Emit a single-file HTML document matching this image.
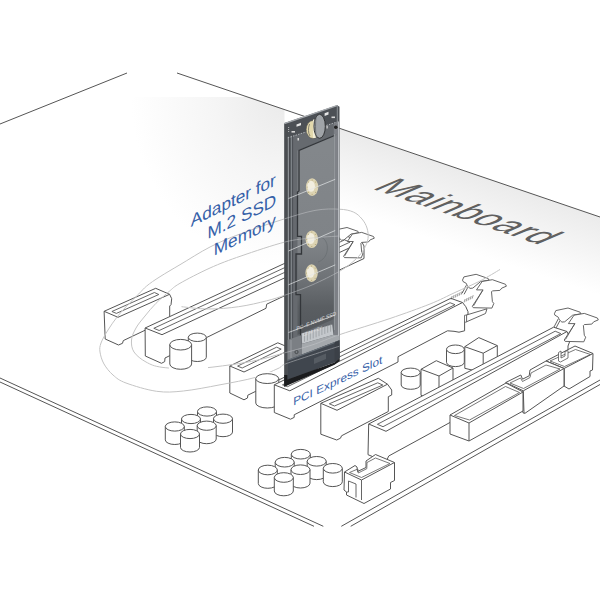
<!DOCTYPE html>
<html><head><meta charset="utf-8"><style>html,body{margin:0;padding:0;background:#fff;width:600px;height:600px;overflow:hidden}svg{display:block}</style></head>
<body><svg width="600" height="600" viewBox="0 0 600 600"><defs>
<radialGradient id="sh1" cx="284" cy="97" r="170" gradientUnits="userSpaceOnUse" gradientTransform="translate(284 97) scale(0.9 1) translate(-284 -97)">
<stop offset="0" stop-color="#eaeaea"/><stop offset="0.45" stop-color="#f5f5f5"/><stop offset="1" stop-color="#fff"/></radialGradient>
<linearGradient id="sh2" x1="469" y1="172" x2="445" y2="244" gradientUnits="userSpaceOnUse">
<stop offset="0" stop-color="#ebebeb"/><stop offset="1" stop-color="#fff"/></linearGradient>
<linearGradient id="pg" x1="0" y1="150" x2="0" y2="335" gradientUnits="userSpaceOnUse"><stop offset="0" stop-color="#83878b"/><stop offset="0.5" stop-color="#7f8387"/><stop offset="0.7" stop-color="#6e7276"/><stop offset="0.85" stop-color="#5a5e62"/><stop offset="1" stop-color="#53575b"/></linearGradient>
<clipPath id="bclip"><polygon points="284.4,123.1 339.5,104 339.5,358 284.4,386"/></clipPath>
<mask id="rmask" maskUnits="userSpaceOnUse" x="0" y="0" width="600" height="600"><rect width="600" height="600" fill="#fff"/>
<rect x="169" y="330" width="39" height="42" fill="#000"/><rect x="255" y="372" width="25" height="40" fill="#000"/></mask>
</defs><rect width="600" height="600" fill="#fff"/><polygon points="100,97 250,97 284.5,109.2 284.5,280 100,280" fill="url(#sh1)"/><polygon points="338,128 600,217 600,300 338,211" fill="url(#sh2)"/><line x1="0.0" y1="124.0" x2="127.0" y2="73.0" stroke="#555" stroke-width="1.0"/><line x1="177.0" y1="73.0" x2="600.0" y2="217.0" stroke="#555" stroke-width="1.0"/><line x1="0.0" y1="378.0" x2="323.3" y2="526.3" stroke="#555" stroke-width="1.0"/><line x1="0.0" y1="382.0" x2="314.0" y2="526.3" stroke="#555" stroke-width="1.0"/><line x1="341.3" y1="526.3" x2="600.0" y2="380.0" stroke="#555" stroke-width="1.0"/><line x1="350.7" y1="526.3" x2="600.0" y2="384.5" stroke="#555" stroke-width="1.0"/><text x="0" y="0" font-family="Liberation Sans, sans-serif" font-size="36.4" letter-spacing="0.7" fill="#606060" transform="matrix(0.948,0.317,-1.04,0.44,371.3,188.6)">Mainboard</text><polygon points="104.1,311.3 155.7,288.3 169.6,294.3 171.7,298.7 171.0,304.7 169.7,306.0 169.7,322.0 169.7,318.5 123.3,340.6 122.5,343.3 118.5,345.0 105.2,339.0" fill="#fff" stroke="#555" stroke-width="1.0" stroke-linejoin="round" /><polyline points="104.1,311.3 118.0,317.3 169.6,294.3" fill="none" stroke="#555" stroke-width="1.0" stroke-linejoin="round" /><polygon points="111.9,311.5 154.4,292.5 158.8,294.5 116.4,313.4" fill="none" stroke="#555" stroke-width="0.9" stroke-linejoin="round" /><polygon points="145.1,328.0 345.0,235.4 361.9,242.1 364.0,246.0 364.0,258.5 364.0,258.5 266.7,304.2 266.0,308.3 165.0,358.0 164.7,361.6 161.5,363.3 145.3,356.0" fill="#fff" stroke="#555" stroke-width="1.0" stroke-linejoin="round" /><polyline points="145.1,328.0 162.0,334.7 361.9,242.1" fill="none" stroke="#555" stroke-width="1.0" stroke-linejoin="round" /><polygon points="153.8,328.3 344.6,239.9 350.0,242.1 159.2,330.5" fill="none" stroke="#555" stroke-width="0.9" stroke-linejoin="round" /><polyline points="338.2,237.4 334.4,244.6" fill="none" stroke="#555" stroke-width="0.9" stroke-linejoin="round" /><polyline points="339.8,238.8 336.2,245.5" fill="none" stroke="#555" stroke-width="0.9" stroke-linejoin="round" /><polygon points="334.8,232.7 336.0,229.8 347.0,227.5 357.9,231.3 358.7,232.7 351.1,234.0 344.0,239.9 341.5,240.2 339.0,237.8 338.2,235.7 335.2,234.0" fill="#fff" stroke="#555" stroke-width="0.9" stroke-linejoin="round" /><polygon points="347.4,241.5 352.4,234.0 361.7,232.4 373.5,236.5 374.3,238.2 370.1,239.9 368.4,242.0 361.7,242.4 360.9,243.2 361.7,252.1 362.9,253.8 361.2,257.9 344.5,257.6 343.6,256.3 353.3,241.5" fill="#fff" stroke="#555" stroke-width="0.9" stroke-linejoin="round" /><polyline points="352.9,241.9 344.8,255.8" fill="none" stroke="#555" stroke-width="0.8" stroke-linejoin="round" /><path d="M188.3,337.3 L188.3,357.3 A9.0,4.2 0 0 0 206.3,357.3 L206.3,337.3 Z" fill="#fff" stroke="#555" stroke-width="1"/><ellipse cx="197.3" cy="337.3" rx="9.0" ry="4.2" fill="#fff" stroke="#555" stroke-width="1"/><path d="M169.8,344.7 L169.8,364.0 A10.9,5.3 0 0 0 191.6,364.0 L191.6,344.7 Z" fill="#fff" stroke="#555" stroke-width="1"/><ellipse cx="180.7" cy="344.7" rx="10.9" ry="5.3" fill="#fff" stroke="#555" stroke-width="1"/><polygon points="229.8,366.0 277.8,342.8 292.0,348.8 292.0,360.0 292.0,373.5 247.8,395.2 247.5,398.0 244.0,399.8 229.8,393.0" fill="#fff" stroke="#555" stroke-width="1.0" stroke-linejoin="round" /><polyline points="229.8,366.0 244.0,372.0 292.0,348.8" fill="none" stroke="#555" stroke-width="1.0" stroke-linejoin="round" /><polygon points="237.6,366.1 276.6,347.2 281.2,349.1 242.2,368.0" fill="none" stroke="#555" stroke-width="0.9" stroke-linejoin="round" /><path d="M255.8,378.6 L255.8,403.1 A11.5,4.9 0 0 0 278.8,403.1 L278.8,378.6 Z" fill="#fff" stroke="#555" stroke-width="1"/><ellipse cx="267.2" cy="378.6" rx="11.5" ry="4.9" fill="#fff" stroke="#555" stroke-width="1"/><polygon points="274.3,384.8 450.8,298.3 462.5,302.5 465.8,306.7 468.0,311.7 468.0,314.2 466.5,315.0 464.6,322.0 464.6,330.8 463.0,331.2 459.0,332.2 454.0,331.3 447.5,330.8 398.0,356.7 398.0,362.0 294.2,414.8 294.2,417.4 290.5,419.2 274.3,412.5" fill="#fff" stroke="#555" stroke-width="1.0" stroke-linejoin="round" /><polyline points="274.3,384.8 289.8,390.8 462.5,302.5" fill="none" stroke="#555" stroke-width="1.0" stroke-linejoin="round" /><polygon points="282.5,384.8 450.0,302.7 455.0,304.7 287.5,386.7" fill="none" stroke="#555" stroke-width="0.9" stroke-linejoin="round" /><polygon points="466.5,315.0 487.0,308.8 485.5,313.5 466.5,321.8" fill="#fff" stroke="#555" stroke-width="0.9" stroke-linejoin="round" /><polygon points="464.5,315.3 466.6,315.0 466.6,322.0 464.5,322.3" fill="#fff" stroke="#555" stroke-width="0.8" stroke-linejoin="round" /><polyline points="451.0,299.6 452.2,296.0" fill="none" stroke="#555" stroke-width="0.6" stroke-linejoin="round" /><polyline points="453.0,298.6 454.2,295.0" fill="none" stroke="#555" stroke-width="0.6" stroke-linejoin="round" /><polyline points="455.0,297.7 456.2,294.1" fill="none" stroke="#555" stroke-width="0.6" stroke-linejoin="round" /><polyline points="457.0,296.7 458.2,293.1" fill="none" stroke="#555" stroke-width="0.6" stroke-linejoin="round" /><polyline points="459.0,295.8 460.2,292.2" fill="none" stroke="#555" stroke-width="0.6" stroke-linejoin="round" /><polyline points="461.0,294.8 462.2,291.2" fill="none" stroke="#555" stroke-width="0.6" stroke-linejoin="round" /><polyline points="464.0,302.5 465.2,299.0" fill="none" stroke="#555" stroke-width="0.6" stroke-linejoin="round" /><polyline points="466.0,301.5 467.2,298.0" fill="none" stroke="#555" stroke-width="0.6" stroke-linejoin="round" /><polyline points="468.0,300.6 469.2,297.1" fill="none" stroke="#555" stroke-width="0.6" stroke-linejoin="round" /><polyline points="470.0,299.6 471.2,296.1" fill="none" stroke="#555" stroke-width="0.6" stroke-linejoin="round" /><polyline points="472.0,298.7 473.2,295.2" fill="none" stroke="#555" stroke-width="0.6" stroke-linejoin="round" /><polyline points="466.3,285.3 462.1,293.3" fill="none" stroke="#555" stroke-width="0.9" stroke-linejoin="round" /><polyline points="468.1,286.8 464.1,294.3" fill="none" stroke="#555" stroke-width="0.9" stroke-linejoin="round" /><polygon points="462.5,280.1 463.9,276.9 476.1,274.3 488.2,278.5 489.1,280.1 480.7,281.5 472.8,288.1 470.0,288.4 467.2,285.7 466.3,283.4 463.0,281.5" fill="#fff" stroke="#555" stroke-width="0.9" stroke-linejoin="round" /><polygon points="476.5,289.9 482.1,281.5 492.4,279.7 505.5,284.3 506.4,286.2 501.8,288.1 499.9,290.4 492.4,290.9 491.5,291.8 492.4,301.6 493.8,303.5 491.9,308.1 473.3,307.7 472.3,306.3 483.1,289.9" fill="#fff" stroke="#555" stroke-width="0.9" stroke-linejoin="round" /><polyline points="482.6,290.3 473.6,305.8" fill="none" stroke="#555" stroke-width="0.8" stroke-linejoin="round" /><path d="M446.5,349.3 L446.5,362.3 A8.9,4.3 0 0 0 464.3,362.3 L464.3,349.3 Z" fill="#fff" stroke="#555" stroke-width="1"/><ellipse cx="455.4" cy="349.3" rx="8.9" ry="4.3" fill="#fff" stroke="#555" stroke-width="1"/><polygon points="464.8,346.7 478.8,337.6 497.3,345.6 497.3,365.0 483.2,372.7 464.8,368.3" fill="#fff" stroke="#555" stroke-width="1.0" stroke-linejoin="round" /><polyline points="464.8,346.7 483.2,353.2 497.3,345.6" fill="none" stroke="#555" stroke-width="1.0" stroke-linejoin="round" /><line x1="483.2" y1="353.2" x2="483.2" y2="372.7" stroke="#555" stroke-width="1.0"/><path d="M401.2,372.4 L401.2,385.0 A9.5,4.3 0 0 0 420.2,385.0 L420.2,372.4 Z" fill="#fff" stroke="#555" stroke-width="1"/><ellipse cx="410.7" cy="372.4" rx="9.5" ry="4.3" fill="#fff" stroke="#555" stroke-width="1"/><polygon points="421.0,369.3 436.3,360.7 453.0,368.0 453.0,394.0 439.0,402.0 421.0,395.3" fill="#fff" stroke="#555" stroke-width="1.0" stroke-linejoin="round" /><polyline points="421.0,369.3 439.0,376.0 453.0,368.0" fill="none" stroke="#555" stroke-width="1.0" stroke-linejoin="round" /><line x1="439.0" y1="376.0" x2="439.0" y2="402.0" stroke="#555" stroke-width="1.0"/><polygon points="320.8,403.3 378.3,378.3 387.5,384.2 391.7,390.0 391.7,395.0 388.3,396.7 388.3,411.5 388.3,411.5 381.5,415.0 341.5,435.8 340.5,438.2 336.7,440.0 320.8,434.2" fill="#fff" stroke="#555" stroke-width="1.0" stroke-linejoin="round" /><polyline points="320.8,403.3 337.0,410.3 387.5,384.2" fill="none" stroke="#555" stroke-width="1.0" stroke-linejoin="round" /><polygon points="329.3,403.8 377.7,382.8 382.8,385.0 334.5,406.0" fill="none" stroke="#555" stroke-width="0.9" stroke-linejoin="round" /><polygon points="368.7,424.0 553.6,327.2 567.0,331.5 569.0,336.0 569.5,342.0 568.0,346.0 568.0,357.0 568.0,357.0 440.0,428.0 388.7,456.0 386.0,462.0 368.0,454.7" fill="#fff" stroke="#555" stroke-width="1.0" stroke-linejoin="round" /><polyline points="368.7,424.0 386.0,431.3 567.0,331.5" fill="none" stroke="#555" stroke-width="1.0" stroke-linejoin="round" /><polygon points="377.4,424.3 555.2,331.2 560.8,333.6 383.0,426.7" fill="none" stroke="#555" stroke-width="0.9" stroke-linejoin="round" /><polyline points="558.2,319.0 554.0,327.0" fill="none" stroke="#555" stroke-width="0.9" stroke-linejoin="round" /><polyline points="560.0,320.5 556.0,328.0" fill="none" stroke="#555" stroke-width="0.9" stroke-linejoin="round" /><polygon points="554.4,313.8 555.8,310.6 568.0,308.0 580.1,312.2 581.0,313.8 572.6,315.2 564.7,321.8 561.9,322.1 559.1,319.4 558.2,317.1 554.9,315.2" fill="#fff" stroke="#555" stroke-width="0.9" stroke-linejoin="round" /><polygon points="568.4,323.6 574.0,315.2 584.3,313.4 597.4,318.0 598.3,319.9 593.7,321.8 591.8,324.1 584.3,324.6 583.4,325.5 584.3,335.3 585.7,337.2 583.8,341.8 565.2,341.4 564.2,340.0 575.0,323.6" fill="#fff" stroke="#555" stroke-width="0.9" stroke-linejoin="round" /><polyline points="574.5,324.0 565.5,339.5" fill="none" stroke="#555" stroke-width="0.8" stroke-linejoin="round" /><polygon points="546.0,361.0 575.0,346.0 593.0,353.5 592.5,370.0 590.0,371.0 590.0,376.5 569.0,389.0 564.0,386.0 564.0,368.5" fill="#fff" stroke="#555" stroke-width="1.0" stroke-linejoin="round" /><polyline points="546.0,361.0 564.0,368.5 593.0,353.5" fill="none" stroke="#555" stroke-width="1.0" stroke-linejoin="round" /><polyline points="564.0,368.5 564.0,386.0" fill="none" stroke="#555" stroke-width="1.0" stroke-linejoin="round" /><polygon points="550.0,361.0 575.5,349.5 590.5,354.5 564.5,366.5" fill="none" stroke="#555" stroke-width="0.8" stroke-linejoin="round" /><polygon points="558.5,352.5 561.0,351.0 561.0,358.0 565.0,356.0 565.0,351.5 568.0,350.5 568.0,358.0 560.5,362.0 558.5,361.0" fill="#fff" stroke="#555" stroke-width="0.8" stroke-linejoin="round" /><polygon points="505.8,382.5 520.8,375.0 522.5,379.2 529.2,375.8 530.0,370.0 546.0,361.0 564.0,368.5 564.0,386.0 525.0,413.3 523.3,413.0" fill="#fff" stroke="#555" stroke-width="1.0" stroke-linejoin="round" /><polyline points="505.8,382.5 523.3,390.8 564.0,368.5" fill="none" stroke="#555" stroke-width="1.0" stroke-linejoin="round" /><polyline points="523.3,390.8 524.0,413.3" fill="none" stroke="#555" stroke-width="1.0" stroke-linejoin="round" /><polyline points="510.0,383.0 520.5,378.0 522.5,381.5 530.0,377.5 531.0,373.0 546.0,365.0 560.0,369.0 523.5,388.5 510.0,383.0" fill="none" stroke="#555" stroke-width="0.8" stroke-linejoin="round" /><polygon points="450.0,415.0 506.0,383.0 523.0,392.0 523.0,411.0 469.0,441.0 450.0,434.0" fill="#fff" stroke="#555" stroke-width="1.0" stroke-linejoin="round" /><polyline points="450.0,415.0 469.0,423.0 523.0,392.0" fill="none" stroke="#555" stroke-width="1.0" stroke-linejoin="round" /><line x1="469.0" y1="423.0" x2="469.0" y2="441.0" stroke="#555" stroke-width="1.0"/><polyline points="454.5,415.5 505.5,386.5 519.5,392.5 469.5,420.0" fill="none" stroke="#555" stroke-width="0.8" stroke-linejoin="round" /><polyline points="454.5,415.5 469.5,420.0" fill="none" stroke="#555" stroke-width="0.8" stroke-linejoin="round" /><path d="M197.5,411.5 L197.5,424.9 A9.5,4.6 0 0 0 216.5,424.9 L216.5,411.5 Z" fill="#fff" stroke="#555" stroke-width="1"/><ellipse cx="207.0" cy="411.5" rx="9.5" ry="4.6" fill="#fff" stroke="#555" stroke-width="1"/><path d="M181.5,419.0 L181.5,432.4 A9.5,4.6 0 0 0 200.5,432.4 L200.5,419.0 Z" fill="#fff" stroke="#555" stroke-width="1"/><ellipse cx="191.0" cy="419.0" rx="9.5" ry="4.6" fill="#fff" stroke="#555" stroke-width="1"/><path d="M213.5,418.7 L213.5,432.1 A9.5,4.6 0 0 0 232.5,432.1 L232.5,418.7 Z" fill="#fff" stroke="#555" stroke-width="1"/><ellipse cx="223.0" cy="418.7" rx="9.5" ry="4.6" fill="#fff" stroke="#555" stroke-width="1"/><path d="M197.2,425.7 L197.2,439.1 A9.5,4.6 0 0 0 216.2,439.1 L216.2,425.7 Z" fill="#fff" stroke="#555" stroke-width="1"/><ellipse cx="206.7" cy="425.7" rx="9.5" ry="4.6" fill="#fff" stroke="#555" stroke-width="1"/><path d="M165.3,426.5 L165.3,439.9 A9.5,4.6 0 0 0 184.3,439.9 L184.3,426.5 Z" fill="#fff" stroke="#555" stroke-width="1"/><ellipse cx="174.8" cy="426.5" rx="9.5" ry="4.6" fill="#fff" stroke="#555" stroke-width="1"/><path d="M180.5,434.0 L180.5,447.4 A9.5,4.6 0 0 0 199.5,447.4 L199.5,434.0 Z" fill="#fff" stroke="#555" stroke-width="1"/><ellipse cx="190.0" cy="434.0" rx="9.5" ry="4.6" fill="#fff" stroke="#555" stroke-width="1"/><path d="M291.3,454.2 L291.3,467.7 A9.5,4.8 0 0 0 310.3,467.7 L310.3,454.2 Z" fill="#fff" stroke="#555" stroke-width="1"/><ellipse cx="300.8" cy="454.2" rx="9.5" ry="4.8" fill="#fff" stroke="#555" stroke-width="1"/><path d="M275.2,462.2 L275.2,475.7 A9.5,4.8 0 0 0 294.2,475.7 L294.2,462.2 Z" fill="#fff" stroke="#555" stroke-width="1"/><ellipse cx="284.7" cy="462.2" rx="9.5" ry="4.8" fill="#fff" stroke="#555" stroke-width="1"/><path d="M307.2,461.3 L307.2,474.8 A9.5,4.8 0 0 0 326.2,474.8 L326.2,461.3 Z" fill="#fff" stroke="#555" stroke-width="1"/><ellipse cx="316.7" cy="461.3" rx="9.5" ry="4.8" fill="#fff" stroke="#555" stroke-width="1"/><path d="M291.0,469.7 L291.0,483.2 A9.5,4.8 0 0 0 310.0,483.2 L310.0,469.7 Z" fill="#fff" stroke="#555" stroke-width="1"/><ellipse cx="300.5" cy="469.7" rx="9.5" ry="4.8" fill="#fff" stroke="#555" stroke-width="1"/><path d="M258.3,470.0 L258.3,483.5 A9.5,4.8 0 0 0 277.3,483.5 L277.3,470.0 Z" fill="#fff" stroke="#555" stroke-width="1"/><ellipse cx="267.8" cy="470.0" rx="9.5" ry="4.8" fill="#fff" stroke="#555" stroke-width="1"/><path d="M323.3,468.3 L323.3,481.8 A9.5,4.8 0 0 0 342.3,481.8 L342.3,468.3 Z" fill="#fff" stroke="#555" stroke-width="1"/><ellipse cx="332.8" cy="468.3" rx="9.5" ry="4.8" fill="#fff" stroke="#555" stroke-width="1"/><path d="M274.3,477.5 L274.3,491.0 A9.5,4.8 0 0 0 293.3,491.0 L293.3,477.5 Z" fill="#fff" stroke="#555" stroke-width="1"/><ellipse cx="283.8" cy="477.5" rx="9.5" ry="4.8" fill="#fff" stroke="#555" stroke-width="1"/><polygon points="344.5,472.0 355.0,465.5 357.0,467.0 357.5,471.5 366.0,467.5 366.0,461.0 375.5,454.5 394.5,462.5 394.5,480.5 390.5,482.5 390.5,489.0 364.0,503.5 346.5,495.0 346.5,492.0 344.0,490.0" fill="#fff" stroke="#555" stroke-width="1.0" stroke-linejoin="round" /><polyline points="344.5,472.0 361.5,480.0 394.5,462.5" fill="none" stroke="#555" stroke-width="1.0" stroke-linejoin="round" /><polyline points="361.5,480.0 361.5,500.0" fill="none" stroke="#555" stroke-width="0.9" stroke-linejoin="round" /><polyline points="349.5,472.5 357.8,469.0 358.2,473.0 366.8,468.7 367.0,462.5 375.5,458.0 390.0,463.5 361.5,477.5 349.5,472.5" fill="none" stroke="#555" stroke-width="0.8" stroke-linejoin="round" /><polyline points="348.5,492.0 348.5,481.0 356.0,484.0 356.0,497.5" fill="none" stroke="#555" stroke-width="0.9" stroke-linejoin="round" /><polyline points="346.5,492.0 348.5,492.0" fill="none" stroke="#555" stroke-width="0.9" stroke-linejoin="round" /><g fill="none" stroke="#c4c4c4" stroke-width="1" mask="url(#rmask)"><path d="M181.5,306.7 C186.0,307.1 198.8,309.0 208.3,309.0 C217.8,309.0 229.0,308.1 238.7,306.7 C248.4,305.3 258.9,302.8 266.7,300.8 C274.5,298.9 277.8,297.6 285.3,295.0 C292.9,292.4 302.9,289.0 312.0,285.0 C321.1,281.0 332.7,275.3 340.0,271.0 C347.3,266.7 352.0,262.7 356.0,259.0 C360.0,255.3 362.0,252.4 364.0,249.0 C366.0,245.6 367.5,242.2 368.0,238.7 C368.5,235.2 368.0,231.3 367.0,228.0 C366.0,224.7 364.3,221.7 362.0,219.0 C359.7,216.3 357.1,213.6 353.3,212.0 C349.5,210.4 345.7,209.5 339.3,209.2 C332.9,208.9 324.9,208.6 315.0,210.4 C305.1,212.2 292.5,216.4 280.0,220.3 C267.5,224.2 251.7,229.6 240.0,234.0 C228.3,238.4 220.0,241.9 210.0,247.0 C200.0,252.1 188.3,259.8 180.0,264.7 C171.7,269.6 165.6,273.1 160.0,276.7 C154.4,280.2 150.2,283.1 146.7,286.0 C143.1,288.9 142.0,290.7 138.7,294.0 C135.4,297.3 130.3,302.2 126.7,306.0 C123.1,309.8 120.4,312.7 117.3,316.7 C114.2,320.7 110.7,325.6 108.0,330.0 C105.3,334.4 102.3,339.3 101.0,343.0 C99.7,346.7 99.5,348.5 100.0,352.0 C100.5,355.5 101.8,360.2 104.0,364.0 C106.2,367.8 109.3,371.8 113.0,375.0 C116.7,378.2 118.7,380.3 126.0,383.0 C133.3,385.7 147.1,390.0 156.7,391.3 C166.2,392.6 172.8,392.1 183.3,391.0 C193.9,389.9 208.1,387.1 220.0,384.8 C231.9,382.6 245.3,380.2 255.0,377.5 C264.7,374.8 272.9,370.8 278.0,368.5 C283.1,366.2 279.6,366.2 285.3,364.0 C291.0,361.8 302.9,358.0 312.0,355.0 C321.1,352.0 335.3,347.5 340.0,346.0"/><path d="M340.0,236.0 C335.3,236.3 321.2,237.0 312.0,238.0 C302.8,239.0 296.8,239.0 285.0,242.0 C273.2,245.0 253.5,251.7 241.0,256.0 C228.5,260.3 220.2,263.4 210.0,268.0 C199.8,272.6 186.8,279.4 180.0,283.3 C173.2,287.2 173.3,288.0 169.3,291.3 C165.3,294.6 160.1,299.2 156.0,303.3 C151.9,307.4 148.3,311.9 145.0,316.0 C141.7,320.1 138.2,324.0 136.0,328.0 C133.8,332.0 131.8,336.0 131.5,340.0 C131.2,344.0 131.6,348.3 134.0,352.0 C136.4,355.7 141.3,359.4 146.0,362.0 C150.7,364.6 154.0,366.2 162.0,367.3 C170.0,368.4 182.4,369.1 194.0,368.7 C205.6,368.3 220.6,366.1 231.3,364.7 C242.0,363.2 249.4,361.9 258.0,360.0 C266.6,358.1 274.0,355.8 283.0,353.3 C292.0,350.8 302.5,348.1 312.0,345.0 C321.5,341.9 327.0,338.9 340.0,334.5 C353.0,330.1 375.0,323.6 390.0,318.5 C405.0,313.4 419.2,308.3 430.0,304.0 C440.8,299.7 446.7,296.3 455.0,292.5 C463.3,288.7 472.5,284.8 480.0,281.0 C487.5,277.2 496.7,271.4 500.0,269.5"/></g><polygon points="284.4,123.1 337.0,105.16339999999998 339.5,106.66339999999998 339.5,357.5 284.4,386" fill="#4c5055"/><polygon points="287.8,137.8 339.2,121.4 339.5,357 287.8,380" fill="#666a6f"/><polygon points="284.4,124.1 287.8,122.94059999999999 287.8,382 284.4,386" fill="#4a4d51"/><polygon points="297.5,150.5 337,134.5 336.5,318 297.5,335" fill="url(#pg)"/><polyline points="337,134.5 299,150.5 299,191 297.5,192 297.5,236.4 301.5,236.4 301.5,254 296,254 296,294.7 300.5,294.7 300.5,345" fill="none" stroke="#33363a" stroke-width="1.3"/><line x1="288.3" y1="136.77009999999999" x2="288.3" y2="383" stroke="#a4a8ac" stroke-width="0.8"/><line x1="289.8" y1="136.2586" x2="289.8" y2="383" stroke="#45484c" stroke-width="1.4"/><line x1="291.4" y1="135.713" x2="291.4" y2="383" stroke="#8d9195" stroke-width="0.7"/><line x1="292.6" y1="135.30379999999997" x2="292.6" y2="383" stroke="#4a4d51" stroke-width="0.9"/><polygon points="333.8,124 339,121.8 339,357 333.8,359" fill="#7f8388" opacity="0.9"/><line x1="338.7" y1="121.5" x2="338.7" y2="358" stroke="#d0d3d6" stroke-width="0.9"/><line x1="334.5" y1="134" x2="334.5" y2="330" stroke="#a0a4a8" stroke-width="0.6"/><line x1="287.8" y1="137.8" x2="339" y2="121.4" stroke="#b0b4b8" stroke-width="1" stroke-dasharray="1.5,1.2"/><line x1="284.4" y1="123.6" x2="337.0" y2="105.66339999999998" stroke="#a6aaae" stroke-width="1.3"/><line x1="337.3" y1="105.16339999999998" x2="337.3" y2="124" stroke="#8c9094" stroke-width="1"/><rect x="296.5" y="124.5" width="4.5" height="2.4" fill="#e6e6e6" transform="skewY(-19) translate(0 102.0)" /><rect x="324.6" y="113.2" width="3.9" height="2.8" fill="#e6e6e6" transform="skewY(-19) translate(0 111.7)" /><g fill="#d8d8d8"><rect x="291.5" y="131" width="3.5" height="1.6"/><rect x="331.5" y="116.5" width="3.5" height="1.6"/><circle cx="288.7" cy="127.5" r="0.5"/><circle cx="288.7" cy="129.5" r="0.5"/><circle cx="288.7" cy="131.5" r="0.5"/><rect x="297.5" y="138" width="1.5" height="2.5"/><rect x="326.5" y="126" width="1.2" height="2.5"/></g><polygon points="301.5,333.6 332.2,324.6 333.4,334.8 302.2,343.8" fill="#c4c8cc"/><line x1="304.5" y1="333.6" x2="304.5" y2="341.7" stroke="#8a8e92" stroke-width="0.6"/><line x1="307.4" y1="332.5" x2="307.4" y2="340.6" stroke="#8a8e92" stroke-width="0.6"/><line x1="310.3" y1="331.4" x2="310.3" y2="339.5" stroke="#8a8e92" stroke-width="0.6"/><line x1="313.2" y1="330.3" x2="313.2" y2="338.4" stroke="#8a8e92" stroke-width="0.6"/><line x1="316.1" y1="329.2" x2="316.1" y2="337.3" stroke="#8a8e92" stroke-width="0.6"/><line x1="319.0" y1="328.1" x2="319.0" y2="336.2" stroke="#8a8e92" stroke-width="0.6"/><line x1="321.9" y1="327.0" x2="321.9" y2="335.0" stroke="#8a8e92" stroke-width="0.6"/><line x1="324.8" y1="325.9" x2="324.8" y2="333.9" stroke="#8a8e92" stroke-width="0.6"/><line x1="327.7" y1="324.9" x2="327.7" y2="332.8" stroke="#8a8e92" stroke-width="0.6"/><line x1="330.6" y1="323.8" x2="330.6" y2="331.7" stroke="#8a8e92" stroke-width="0.6"/><text font-family="Liberation Sans, sans-serif" font-size="5.2" fill="#e0e0e0" transform="matrix(0.93,-0.36,0,1,296.5,330.5)">PC -E NVME SSD</text><text font-family="Liberation Sans, sans-serif" font-size="4.6" fill="#e0e0e0" transform="matrix(0.93,-0.36,0,1,303,336.5)">L2 M KEY</text><polygon points="301.7,343.9 333.4,334.8 339.4,336 339.4,340.2 301.7,355" fill="#a4a8ac"/><polygon points="287.6,340 301.7,335 301.7,355 287.6,360" fill="#7b7f84"/><line x1="291" y1="340" x2="291" y2="361" stroke="#a8acb0" stroke-width="0.7"/><circle cx="296.5" cy="352" r="1.6" fill="none" stroke="#3a3d40" stroke-width="0.8"/><polygon points="287.4,360 339.4,340.2 339.7,358 334.6,362.4 287.4,379.5" fill="#40464e"/><polyline points="287.4,360.5 339.4,340.7" fill="none" stroke="#687078" stroke-width="1.2"/><polygon points="334.6,342.2 339.4,340.2 339.7,358 334.6,362.4" fill="#3b4047"/><polygon points="314,358.5 326,353.5 326,359 314,364" fill="#565c63"/><polygon points="284.2,375 287.4,375 287.4,379.5 334.6,362.4 339.7,358 339.7,361 334.6,364.8 287.8,385.2 284.2,387" fill="#1b1c1e"/><ellipse cx="312.1" cy="187.1" rx="6.2" ry="8.8" fill="#dcd3b2"/><ellipse cx="311.1" cy="186.29999999999998" rx="3.8" ry="5.5" fill="#f2eedf"/><circle cx="317.1" cy="187.1" r="0.5" fill="#a89a6a"/><circle cx="315.6" cy="192.2" r="0.5" fill="#a89a6a"/><circle cx="312.1" cy="194.3" r="0.5" fill="#a89a6a"/><circle cx="308.6" cy="192.2" r="0.5" fill="#a89a6a"/><circle cx="307.1" cy="187.1" r="0.5" fill="#a89a6a"/><circle cx="308.6" cy="182.0" r="0.5" fill="#a89a6a"/><circle cx="312.1" cy="179.9" r="0.5" fill="#a89a6a"/><circle cx="315.6" cy="182.0" r="0.5" fill="#a89a6a"/><ellipse cx="311.8" cy="239.3" rx="6.2" ry="8.8" fill="#dcd3b2"/><ellipse cx="310.8" cy="238.5" rx="3.8" ry="5.5" fill="#f2eedf"/><circle cx="316.8" cy="239.3" r="0.5" fill="#a89a6a"/><circle cx="315.3" cy="244.4" r="0.5" fill="#a89a6a"/><circle cx="311.8" cy="246.5" r="0.5" fill="#a89a6a"/><circle cx="308.3" cy="244.4" r="0.5" fill="#a89a6a"/><circle cx="306.8" cy="239.3" r="0.5" fill="#a89a6a"/><circle cx="308.3" cy="234.2" r="0.5" fill="#a89a6a"/><circle cx="311.8" cy="232.1" r="0.5" fill="#a89a6a"/><circle cx="315.3" cy="234.2" r="0.5" fill="#a89a6a"/><ellipse cx="311.6" cy="273.1" rx="6.2" ry="8.8" fill="#dcd3b2"/><ellipse cx="310.6" cy="272.3" rx="3.8" ry="5.5" fill="#f2eedf"/><circle cx="316.6" cy="273.1" r="0.5" fill="#a89a6a"/><circle cx="315.1" cy="278.2" r="0.5" fill="#a89a6a"/><circle cx="311.6" cy="280.3" r="0.5" fill="#a89a6a"/><circle cx="308.1" cy="278.2" r="0.5" fill="#a89a6a"/><circle cx="306.6" cy="273.1" r="0.5" fill="#a89a6a"/><circle cx="308.1" cy="268.0" r="0.5" fill="#a89a6a"/><circle cx="311.6" cy="265.9" r="0.5" fill="#a89a6a"/><circle cx="315.1" cy="268.0" r="0.5" fill="#a89a6a"/><path d="M318,237 C330,236 331,258 318,262" fill="none" stroke="#6a6e72" stroke-width="0.8"/><line x1="288.5" y1="198.5" x2="335.2" y2="179.3" stroke="#e4e6e8" stroke-width="0.7"/><line x1="288.5" y1="251" x2="335.2" y2="230.5" stroke="#e4e6e8" stroke-width="0.7"/><line x1="288.5" y1="284.8" x2="335.2" y2="264.9" stroke="#e4e6e8" stroke-width="0.7"/><line x1="288.5" y1="332.5" x2="335.2" y2="315" stroke="#e4e6e8" stroke-width="0.7"/><ellipse cx="313" cy="129.5" rx="6.8" ry="9" fill="#e3d9ad" stroke="#55524a" stroke-width="0.5"/><path d="M309.5,124 C308,128 308,133 310,136" fill="none" stroke="#6d6a5e" stroke-width="0.8"/><rect x="313" y="119.5" width="2.8" height="18.5" fill="#f3eed6"/><ellipse cx="319.6" cy="126.3" rx="5.7" ry="12" fill="#a0a4a8" stroke="#2a2b2d" stroke-width="0.9"/><path d="M316.2,115.5 C315.3,122 315.3,131 316.2,137.5" fill="none" stroke="#5a5d60" stroke-width="0.7"/><circle cx="335.8" cy="127.2" r="1.8" fill="#222"/><g fill="none" stroke="#c8cbce" stroke-width="0.9" opacity="0.55" clip-path="url(#bclip)"><path d="M181.5,306.7 C186.0,307.1 198.8,309.0 208.3,309.0 C217.8,309.0 229.0,308.1 238.7,306.7 C248.4,305.3 258.9,302.8 266.7,300.8 C274.5,298.9 277.8,297.6 285.3,295.0 C292.9,292.4 302.9,289.0 312.0,285.0 C321.1,281.0 332.7,275.3 340.0,271.0 C347.3,266.7 352.0,262.7 356.0,259.0 C360.0,255.3 362.0,252.4 364.0,249.0 C366.0,245.6 367.5,242.2 368.0,238.7 C368.5,235.2 368.0,231.3 367.0,228.0 C366.0,224.7 364.3,221.7 362.0,219.0 C359.7,216.3 357.1,213.6 353.3,212.0 C349.5,210.4 345.7,209.5 339.3,209.2 C332.9,208.9 324.9,208.6 315.0,210.4 C305.1,212.2 292.5,216.4 280.0,220.3 C267.5,224.2 251.7,229.6 240.0,234.0 C228.3,238.4 220.0,241.9 210.0,247.0 C200.0,252.1 188.3,259.8 180.0,264.7 C171.7,269.6 165.6,273.1 160.0,276.7 C154.4,280.2 150.2,283.1 146.7,286.0 C143.1,288.9 142.0,290.7 138.7,294.0 C135.4,297.3 130.3,302.2 126.7,306.0 C123.1,309.8 120.4,312.7 117.3,316.7 C114.2,320.7 110.7,325.6 108.0,330.0 C105.3,334.4 102.3,339.3 101.0,343.0 C99.7,346.7 99.5,348.5 100.0,352.0 C100.5,355.5 101.8,360.2 104.0,364.0 C106.2,367.8 109.3,371.8 113.0,375.0 C116.7,378.2 118.7,380.3 126.0,383.0 C133.3,385.7 147.1,390.0 156.7,391.3 C166.2,392.6 172.8,392.1 183.3,391.0 C193.9,389.9 208.1,387.1 220.0,384.8 C231.9,382.6 245.3,380.2 255.0,377.5 C264.7,374.8 272.9,370.8 278.0,368.5 C283.1,366.2 279.6,366.2 285.3,364.0 C291.0,361.8 302.9,358.0 312.0,355.0 C321.1,352.0 335.3,347.5 340.0,346.0"/><path d="M340.0,236.0 C335.3,236.3 321.2,237.0 312.0,238.0 C302.8,239.0 296.8,239.0 285.0,242.0 C273.2,245.0 253.5,251.7 241.0,256.0 C228.5,260.3 220.2,263.4 210.0,268.0 C199.8,272.6 186.8,279.4 180.0,283.3 C173.2,287.2 173.3,288.0 169.3,291.3 C165.3,294.6 160.1,299.2 156.0,303.3 C151.9,307.4 148.3,311.9 145.0,316.0 C141.7,320.1 138.2,324.0 136.0,328.0 C133.8,332.0 131.8,336.0 131.5,340.0 C131.2,344.0 131.6,348.3 134.0,352.0 C136.4,355.7 141.3,359.4 146.0,362.0 C150.7,364.6 154.0,366.2 162.0,367.3 C170.0,368.4 182.4,369.1 194.0,368.7 C205.6,368.3 220.6,366.1 231.3,364.7 C242.0,363.2 249.4,361.9 258.0,360.0 C266.6,358.1 274.0,355.8 283.0,353.3 C292.0,350.8 302.5,348.1 312.0,345.0 C321.5,341.9 327.0,338.9 340.0,334.5 C353.0,330.1 375.0,323.6 390.0,318.5 C405.0,313.4 419.2,308.3 430.0,304.0 C440.8,299.7 446.7,296.3 455.0,292.5 C463.3,288.7 472.5,284.8 480.0,281.0 C487.5,277.2 496.7,271.4 500.0,269.5"/></g><g font-family="Liberation Sans, sans-serif" font-size="17.2" fill="#3560a8"><text transform="matrix(1,-0.49,0,1.0,190.8,226.9)">Adapter for</text><text transform="matrix(1,-0.49,0,1.0,207.5,239.2)">M.2 SSD</text><text transform="matrix(1,-0.49,0,1.0,213.8,256)">Memory</text><text font-size="11.8" transform="matrix(1,-0.478,0,0.95,293.2,405.8)">PCI Express Slot</text></g></svg></body></html>
